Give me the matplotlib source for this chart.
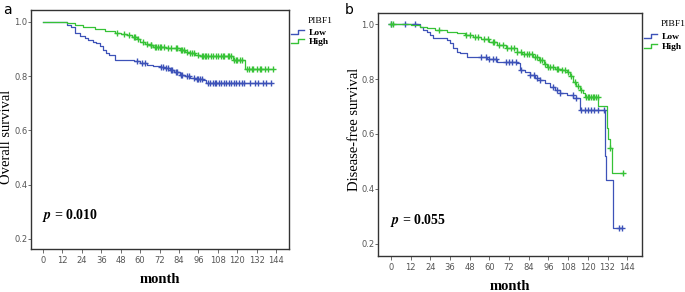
import numpy as np
import matplotlib
matplotlib.use('Agg')
import matplotlib.pyplot as plt
from matplotlib.lines import Line2D
from matplotlib.legend_handler import HandlerBase

plt.rcParams['mathtext.fontset'] = 'stix'

# ---- panel a : overall survival ----
os_low_t = [0, 14.6, 17, 20, 23, 26, 28, 31, 33, 35, 37, 39, 40.5, 44.5, 56, 60, 64, 68, 72,
            75, 78.5, 81, 84.7, 88, 91, 95, 99, 101]
os_low_s = [1.0, 0.99, 0.98, 0.96, 0.948, 0.94, 0.933, 0.927, 0.921, 0.91, 0.896, 0.887, 0.878,
            0.859, 0.855, 0.85, 0.841, 0.838, 0.835, 0.83, 0.822, 0.815, 0.806, 0.80, 0.792,
            0.788, 0.785, 0.776]
os_low_end = 141
os_low_cens = [58, 61, 63, 73, 74, 76, 77, 79, 80, 82, 83, 85, 86, 89, 90, 93, 95, 96, 97, 98,
               102, 103, 105, 106, 107, 109, 110, 112, 113, 115, 116, 118, 119, 121, 123, 124,
               128, 131, 133, 136, 138, 141]

os_high_t = [0, 15, 20, 25, 32, 38, 44.5, 48, 51.7, 55, 58, 60, 63, 66, 68.2, 76, 84.7, 88,
             90.9, 94, 97, 117.6, 124.8]
os_high_s = [1.0, 0.995, 0.99, 0.983, 0.975, 0.968, 0.96, 0.956, 0.952, 0.944, 0.936, 0.927,
             0.92, 0.914, 0.909, 0.903, 0.896, 0.89, 0.884, 0.878, 0.874, 0.859, 0.827]
os_high_end = 142
os_high_cens = [46, 50, 53, 56, 57, 59, 62, 64, 66.5, 67, 69, 70, 71, 72, 73, 75, 77, 79, 82,
                83, 85, 86, 87, 89, 91, 92, 93, 96, 98, 99, 100, 101, 102, 104, 105, 107, 108,
                110, 111, 112, 114, 115, 116, 118, 119, 120, 122, 123, 126, 127, 129, 130,
                132, 134, 135, 137, 139, 142]

# ---- panel b : disease-free survival ----
dfs_low_t = [0, 17.7, 19.5, 21.8, 24, 25.8, 33.9, 36, 38, 40, 42, 46.2, 58.4, 64.4, 76.6,
             78.7, 81.5, 84.8, 88, 90.9, 94, 97, 100, 103, 107, 111.2, 115.2, 130.5, 131.2,
             135.4]
dfs_low_s = [1.0, 0.99, 0.98, 0.972, 0.96, 0.948, 0.942, 0.93, 0.912, 0.9, 0.893, 0.879,
             0.872, 0.863, 0.857, 0.833, 0.825, 0.815, 0.805, 0.796, 0.785, 0.772, 0.76,
             0.748, 0.74, 0.73, 0.687, 0.52, 0.433, 0.258]
dfs_low_end = 141
dfs_low_cens = [0, 8.5, 14.6, 55, 58, 60, 62, 64, 70, 72, 74, 76, 79, 85, 87, 89, 91, 99, 101,
                103, 111, 113, 116, 118, 120, 122, 124, 126, 130, 139, 141]

dfs_high_t = [0, 12, 17.7, 22, 27, 33.9, 40, 45, 50.2, 55, 60, 64.4, 70, 76.6, 80, 86.8, 90,
              93, 95, 100, 104, 107, 109, 111.2, 113, 115, 117.3, 118.3, 126.4, 131.5, 132.5,
              133.5, 134.8]
dfs_high_s = [1.0, 0.997, 0.99, 0.985, 0.978, 0.972, 0.966, 0.96, 0.954, 0.945, 0.935, 0.924,
              0.912, 0.9, 0.892, 0.881, 0.868, 0.855, 0.845, 0.838, 0.832, 0.827, 0.81, 0.79,
              0.775, 0.76, 0.748, 0.736, 0.70, 0.62, 0.58, 0.548, 0.457]
dfs_high_end = 141.7
dfs_high_cens = [0, 1, 29, 46, 48, 51, 53, 57, 59, 62, 63, 66, 68, 70.5, 73, 75, 77, 79, 81,
                 83, 84, 86, 88, 89, 91, 92, 94, 96, 97, 99, 101, 102, 104, 106, 108, 110,
                 112, 114, 116, 119, 120, 121, 122, 123, 124, 125, 126, 133.5, 141.7]

BLUE = '#3d52b8'
GREEN = '#36c236'
SERIF = 'Liberation Serif'


def surv_at(times, surv, t):
    i = np.searchsorted(times, t, side='right') - 1
    return np.array(surv)[i]


def draw_km(ax, t, s, end, cens, color):
    ax.step(list(t) + [end], list(s) + [s[-1]], where='post', color=color, lw=0.9)
    c = np.array(cens)
    ax.plot(c, surv_at(t, s, c), '+', color=color, ms=4, mew=1.0, ls='none')


class StepHandler(HandlerBase):
    def create_artists(self, legend, orig, xd, yd, w, h, fontsize, trans):
        x = [xd, xd + w * 0.5, xd + w * 0.5, xd + w]
        y = [yd + h * 0.15, yd + h * 0.15, yd + h * 0.75, yd + h * 0.75]
        return [Line2D(x, y, color=orig.get_color(), lw=1.0, transform=trans)]


def style_ax(ax, ylabel, xlim, ylim, label_xy):
    ax.set_xlim(*xlim)
    ax.set_ylim(*ylim)
    ax.set_xticks(range(0, 145, 12))
    ax.set_yticks([0.2, 0.4, 0.6, 0.8, 1.0])
    ax.set_yticklabels(['0.2', '0.4', '0.6', '0.8', '1.0'])
    ax.tick_params(labelsize=6, colors='#555555', length=3, width=0.6, pad=2)
    ax.tick_params(axis='y', length=2, pad=0.5)
    for sp in ax.spines.values():
        sp.set_linewidth(1.0)
        sp.set_color('#333333')
    ax.set_xlabel('month', family=SERIF, fontsize=10.5, weight='bold', labelpad=6)
    ax.set_ylabel(ylabel, family=SERIF, fontsize=10.5)
    ax.yaxis.set_label_coords(*label_xy)


fig = plt.figure(figsize=(6.85, 2.92), dpi=100)
ax1 = fig.add_axes([0.0453, 0.1473, 0.3766, 0.8185])
ax2 = fig.add_axes([0.5518, 0.1233, 0.3854, 0.832])

draw_km(ax1, os_low_t, os_low_s, os_low_end, os_low_cens, BLUE)
draw_km(ax1, os_high_t, os_high_s, os_high_end, os_high_cens, GREEN)
draw_km(ax2, dfs_low_t, dfs_low_s, dfs_low_end, dfs_low_cens, BLUE)
draw_km(ax2, dfs_high_t, dfs_high_s, dfs_high_end, dfs_high_cens, GREEN)

style_ax(ax1, 'Overall survival', (-7.4, 152), (0.163, 1.044), (-0.07, 0.47))
style_ax(ax2, 'Disease-free survival', (-7.9, 153), (0.156, 1.04), (-0.065, 0.52))

ax1.text(-0.5, 0.285, r'$\mathbfit{p}$' + ' = 0.010', family=SERIF, fontsize=10, weight='bold',
         va='center')
ax2.text(-0.5, 0.285, r'$\mathbfit{p}$' + ' = 0.055', family=SERIF, fontsize=10, weight='bold',
         va='center')

for ax, anchor_y, title_y in [(ax1, 0.94, 0.955), (ax2, 0.935, 0.955)]:
    handles = [Line2D([], [], color=BLUE), Line2D([], [], color=GREEN)]
    ax.legend(handles, ['Low', 'High'], loc='upper left', bbox_to_anchor=(0.995, anchor_y),
              frameon=False, handler_map={Line2D: StepHandler()}, handlelength=1.3,
              handletextpad=0.5, labelspacing=0.1, borderaxespad=0,
              prop={'family': SERIF, 'size': 6.8, 'weight': 'bold'})
    ax.text(1.072, title_y, 'PIBF1', transform=ax.transAxes, family=SERIF, fontsize=6.8,
            va='center', ha='left')

fig.text(0.005, 0.965, 'a', fontsize=10, family='DejaVu Sans', va='center')
fig.text(0.503, 0.965, 'b', fontsize=10, family='DejaVu Sans', va='center')

fig.savefig('out.png', dpi=100)
